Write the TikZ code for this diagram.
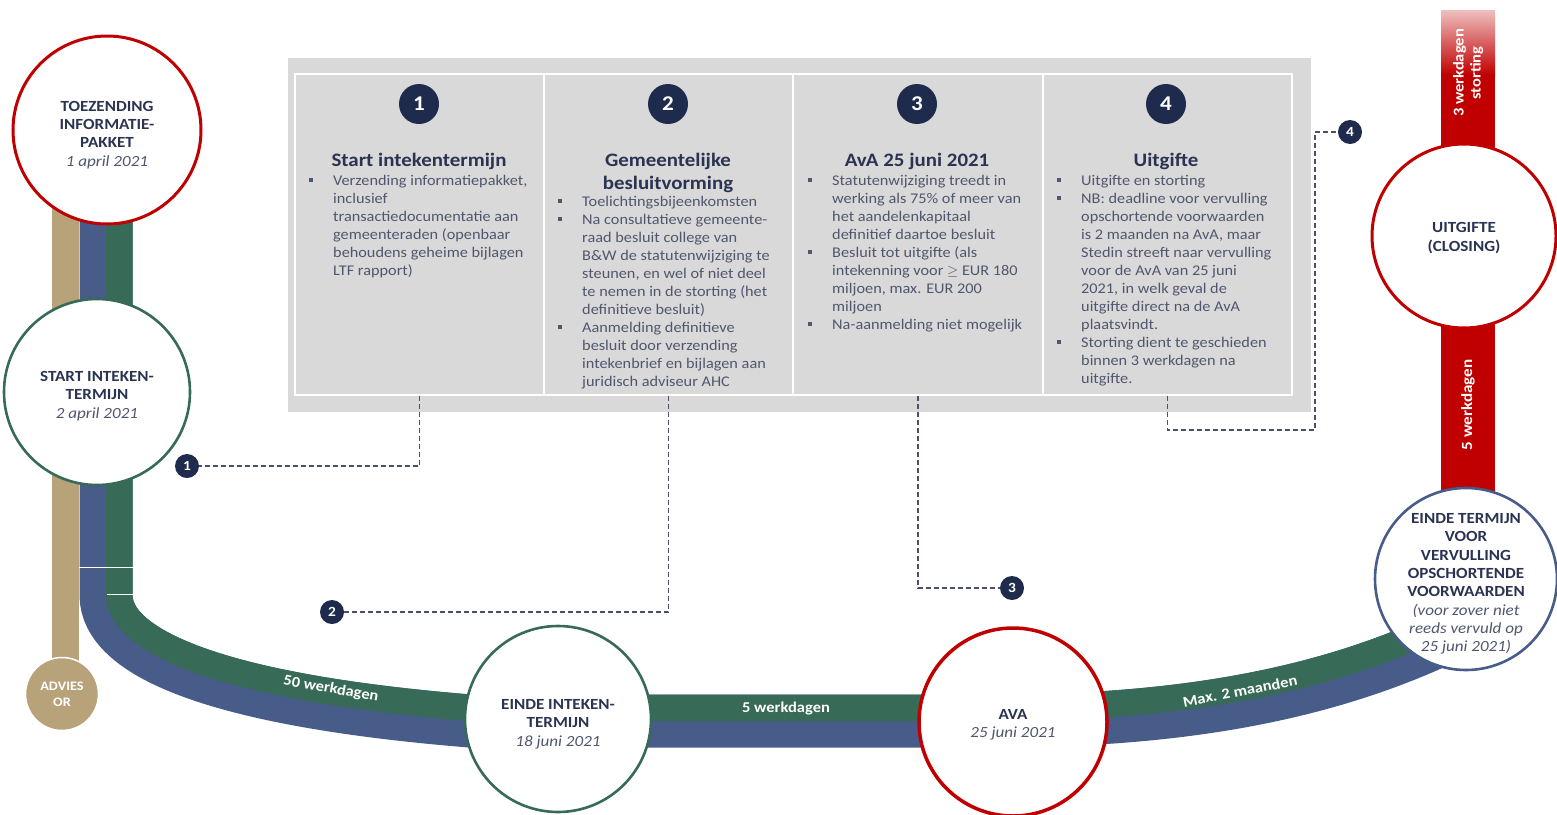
\documentclass[tikz,border=0pt]{standalone}
\usepackage{fontspec}
\setmainfont{Carlito}[FakeStretch=1.1]
\definecolor{trgreen}{HTML}{376B57}
\definecolor{trblue}{HTML}{485C8A}
\definecolor{trtan}{HTML}{B8A27A}
\definecolor{trred}{HTML}{C00000}
\definecolor{navy}{HTML}{1F2B4D}
\definecolor{boxgray}{HTML}{D9D9D9}
\definecolor{bodytxt}{HTML}{50566E}
\definecolor{headtxt}{HTML}{2A3352}
\definecolor{dashc}{HTML}{4A5066}
\newcommand\bul{\raisebox{3.5pt}{\rule{3.8pt}{3.8pt}}}
\newcommand\datetxt[1]{{\mdseries\itshape\color{bodytxt}#1}}
\tikzset{
 milestone/.style={circle, draw, fill=white, line width=3pt, inner sep=0pt},
 redms/.style={milestone, draw=trred},
 greenms/.style={milestone, draw=trgreen, line width=2.6pt},
 bluems/.style={milestone, draw=trblue, line width=2.6pt},
 mstext/.style={inner sep=0pt, align=center, text=headtxt, font=\fontsize{15.5}{18.3}\selectfont\bfseries},
 numbig/.style={circle, fill=navy, text=white, minimum size=40pt, inner sep=0pt, font=\fontsize{21}{21}\selectfont\bfseries},
 numsmall/.style={circle, fill=navy, text=white, minimum size=24pt, inner sep=0pt, font=\fontsize{14}{14}\selectfont\bfseries},
 colbox/.style={draw=white, line width=1.8pt, minimum width=249pt, minimum height=321pt, inner sep=0pt},
 colhead/.style={text=headtxt, font=\fontsize{19}{22.7}\selectfont\bfseries, anchor=base, inner sep=0pt},
 colbody/.style={text=bodytxt, font=\fontsize{14.8}{18}\selectfont, anchor=base west, inner sep=0pt},
 dashline/.style={dashc, line width=1.6pt, dash pattern=on 5pt off 3pt},
 bandlabel/.style={text=white, font=\fontsize{15}{15}\selectfont\bfseries, inner sep=0pt},
}
\def\trackpath{(106,175) -- (106,595) .. controls (106,652) and (212,700) .. (470,721) -- (1012,721) .. controls (1200,719) and (1350,690) .. (1480,620)}
\begin{document}
\begin{tikzpicture}[x=1pt,y=-1pt]
\fill[white] (0,0) rectangle (1557,814);
\useasboundingbox (0,0) rectangle (1557,814);

% ---- tracks
\draw[trtan, line width=27pt] (65.5,175) -- (65.5,663);
\draw[trblue, line width=53pt] \trackpath;
\begin{scope}
\clip (106,-10) -- (106,595) .. controls (106,652) and (212,700) .. (470,721) -- (1012,721) .. controls (1200,719) and (1350,690) .. (1480,620) -- (1600,555) -- (1600,-10) -- cycle;
\draw[trgreen, line width=53pt] \trackpath;
\end{scope}
\draw[white, line width=0.8pt] (79,567) -- (133,567);
\draw[white, line width=0.8pt] (107,594) -- (133,594);

% red bars
\shade[top color=trred!25, bottom color=trred] (1441,10) rectangle (1495,75);
\fill[trred] (1441,74) rectangle (1495,150);
\fill[trred] (1441,320) rectangle (1495,495);
\node[bandlabel, rotate=90, align=center, font=\fontsize{15}{17}\selectfont\bfseries] (lab3w) at (1468,73) {3 werkdagen\\storting};
\node[bandlabel, rotate=90, font=\fontsize{15.5}{17}\selectfont\bfseries] (lab5w) at (1468,405) {5 werkdagen};

% band labels
\node[bandlabel, rotate=-10] (lab50) at (331,689) {50 werkdagen};
\node[bandlabel] (lab5) at (786,708) {5 werkdagen};
\node[bandlabel, rotate=11] (labmax) at (1240,691) {Max. 2 maanden};

% ---- gray box
\fill[boxgray] (288,58) rectangle (1311,412);
\node[colbox] (c1) at (419.5,234.5) {};
\node[colbox] (c2) at (668.5,234.5) {};
\node[colbox] (c3) at (918,234.5) {};
\node[colbox] (c4) at (1167.5,234.5) {};

\node[numbig] (n1) at (419,104) {1};
\node[numbig] (n2) at (668,104) {2};
\node[numbig] (n3) at (917,104) {3};
\node[numbig] (n4) at (1166,104) {4};

\node[colhead] (h1) at (419,166) {Start intekentermijn};
\node[colhead] (h2) at (668,166.5) {\begin{tabular}[t]{@{}c@{}}Gemeentelijke\\besluitvorming\end{tabular}};
\node[colhead] (h3) at (917,166) {AvA 25 juni 2021};
\node[colhead] (h4) at (1166,166) {Uitgifte};

\node[colbody] (t1) at (309,185.5) {\begin{tabular}[t]{@{}p{24pt}@{}l@{}}
\bul & Verzending informatiepakket,\\
 & inclusief\\
 & transactiedocumentatie aan\\
 & gemeenteraden (openbaar\\
 & behoudens geheime bijlagen\\
 & LTF rapport)
\end{tabular}};
\node[colbody] (t2) at (558,206) {\begin{tabular}[t]{@{}p{24pt}@{}l@{}}
\bul & Toelichtingsbijeenkomsten\\
\bul & Na consultatieve gemeente-\\
 & raad besluit college van\\
 & B\&W de statutenwijziging te\\
 & steunen, en wel of niet deel\\
 & te nemen in de storting (het\\
 & definitieve besluit)\\
\bul & Aanmelding definitieve\\
 & besluit door verzending\\
 & intekenbrief en bijlagen aan\\
 & juridisch adviseur AHC
\end{tabular}};
\node[colbody] (t3) at (808,185.5) {\begin{tabular}[t]{@{}p{24pt}@{}l@{}}
\bul & Statutenwijziging treedt in\\
 & werking als 75\% of meer van\\
 & het aandelenkapitaal\\
 & definitief daartoe besluit\\
\bul & Besluit tot uitgifte (als\\
 & intekenning voor $\geq$ EUR 180\\
 & miljoen, max. EUR 200\\
 & miljoen\\
\bul & Na-aanmelding niet mogelijk
\end{tabular}};
\node[colbody] (t4) at (1057,185.5) {\begin{tabular}[t]{@{}p{24pt}@{}l@{}}
\bul & Uitgifte en storting\\
\bul & NB: deadline voor vervulling\\
 & opschortende voorwaarden\\
 & is 2 maanden na AvA, maar\\
 & Stedin streeft naar vervulling\\
 & voor de AvA van 25 juni\\
 & 2021, in welk geval de\\
 & uitgifte direct na de AvA\\
 & plaatsvindt.\\
\bul & Storting dient te geschieden\\
 & binnen 3 werkdagen na\\
 & uitgifte.
\end{tabular}};

% ---- milestones
\node[redms, minimum size=188pt] (toez) at (107,130) {};
\node[mstext] (toezt) at (107,135) {TOEZENDING\\INFORMATIE-\\PAKKET\\\datetxt{1 april 2021}};
\node[greenms, minimum size=186pt] (start) at (97,392) {};
\node[mstext] (startt) at (97,396) {START INTEKEN-\\TERMIJN\\\datetxt{2 april 2021}};
\node[greenms, minimum size=186pt] (einde) at (558,719) {};
\node[mstext] (eindet) at (558,724) {EINDE INTEKEN-\\TERMIJN\\\datetxt{18 juni 2021}};
\node[redms, minimum size=188pt, line width=3.5pt] (ava) at (1013,722) {};
\node[mstext] (avat) at (1013,725) {AVA\\\datetxt{25 juni 2021}};
\node[redms, minimum size=184pt] (uitg) at (1464,236) {};
\node[mstext] (uitgt) at (1464,238) {UITGIFTE\\(CLOSING)};
\node[bluems, minimum size=182pt] (termijn) at (1466,579) {};
\node[mstext] (termijnt) at (1466,584) {EINDE TERMIJN\\VOOR\\VERVULLING\\OPSCHORTENDE\\VOORWAARDEN\\\datetxt{(voor zover niet}\\\datetxt{reeds vervuld op}\\\datetxt{25 juni 2021)}};
\node[circle, fill=trtan, draw=white, line width=1.5pt, minimum size=73pt, inner sep=0pt, text=white, align=center, font=\fontsize{13}{16}\selectfont\bfseries] (advies) at (62,694) {ADVIES\\OR};

% ---- badges and dashed connectors
\node[numsmall] (b1) at (187,466) {1};
\node[numsmall] (b2) at (332,612) {2};
\node[numsmall] (b3) at (1012,588) {3};
\node[numsmall] (b4) at (1350,132) {4};
\coordinate (k4) at (1315,430);
\draw[dashline] (c1.south) |- (b1.east);
\draw[dashline] (c2.south) |- (b2.east);
\draw[dashline] (c3.south) |- (b3.west);
\draw[dashline] (c4.south) |- (k4) |- (b4.west);
\end{tikzpicture}
\end{document}
